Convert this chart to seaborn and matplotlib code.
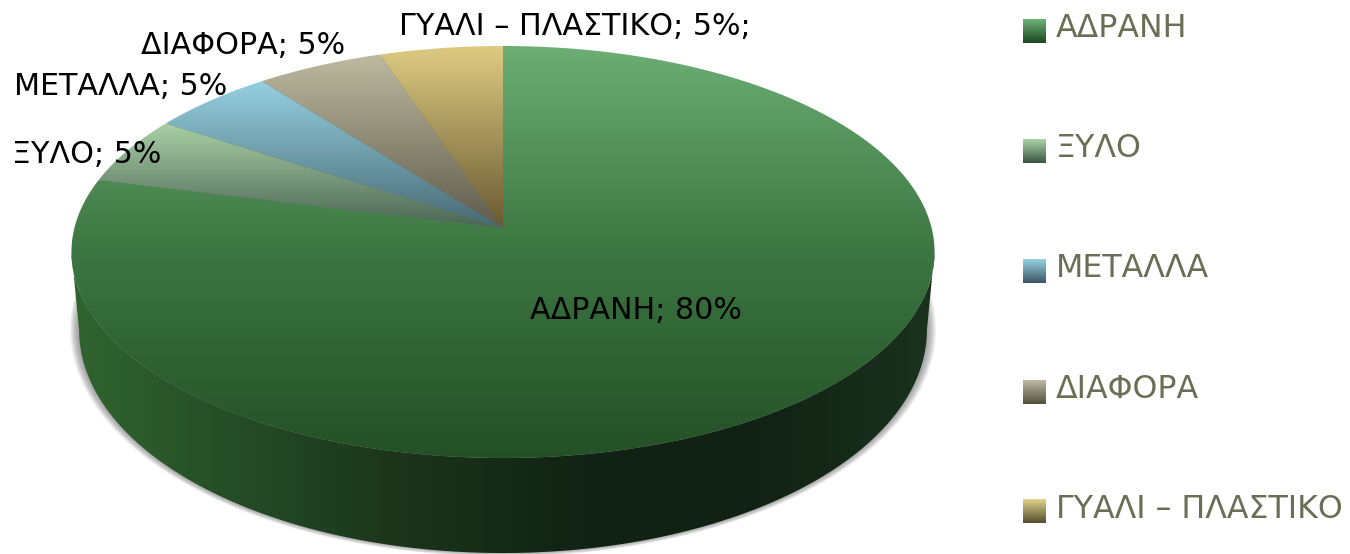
import numpy as np
import matplotlib
matplotlib.use("Agg")
import matplotlib.pyplot as plt
import seaborn as sns
from matplotlib.patches import Polygon

# data
categories = ["ΑΔΡΑΝΗ", "ΞΥΛΟ", "ΜΕΤΑΛΛΑ", "ΔΙΑΦΟΡΑ", "ΓΥΑΛΙ – ΠΛΑΣΤΙΚΟ"]
label_shares = [80, 5, 5, 5, 5]
# slices as measured, they are a bit off from the printed labels
slice_shares = [78.89, 5.33, 5.25, 5.36, 5.17]

# colours, top to bottom of each slice
slice_colors = [
    ["#6cae73", "#3c7642", "#245026"],
    ["#aad0a5", "#4b6455"],
    ["#96d0e1", "#486973"],
    ["#bebaa0", "#5f5a4b"],
    ["#decb82", "#695a32"],
]
swatch_colors = [
    ["#6eb478", "#1c4623"],
    ["#aad4aa", "#3c5540"],
    ["#96d2e1", "#3c5564"],
    ["#bebaa5", "#50503c"],
    ["#e1d28c", "#55502d"],
]
wall_colors = ["#30642f", "#244b26", "#1a321a", "#112315", "#122214", "#1a321e"]
legend_color = "#6b6e55"

sns.set_theme(style="white")
plt.rcParams["font.family"] = ["DejaVu Sans"]

fig = plt.figure(figsize=(13.5, 5.54), dpi=100)
ax = fig.add_axes([0, 0, 1, 1])

wedges, _ = ax.pie(slice_shares, startangle=90, counterclock=False)


def project(theta, cx, cy, rx, ry, k=0.1165):
    # tilted disc: unit circle to pixel coordinates
    x, y = np.cos(theta), np.sin(theta)
    return np.column_stack([cx + rx * x / (1 + k * y), cy - ry * y / (1 + k * y)])


top = dict(cx=503, cy=228, rx=428.6, ry=203.2)
rim = dict(cx=503, cy=304, rx=421, ry=220)

# soft shadow around the lower rim
full = np.linspace(0, 2 * np.pi, 400)
for s in range(9, 0, -1):
    pts = project(full, rim["cx"], rim["cy"] - 1, rim["rx"] + s, rim["ry"] + s * 0.45)
    ax.add_patch(Polygon(pts, closed=True, fc="#555555", ec="none", alpha=0.08, zorder=1))

# side wall, front half of the disc
front = np.radians(np.linspace(186.7, 353.3, 300))
wall_pts = np.vstack([project(front, **top), project(front[::-1], **rim)])
wall = Polygon(wall_pts, closed=True, fc="none", ec="none", zorder=2)
ax.add_patch(wall)
wall_cmap = sns.blend_palette(wall_colors, as_cmap=True)
im = ax.imshow(np.linspace(0, 1, 256)[None, :], cmap=wall_cmap, aspect="auto",
               extent=(wall_pts[:, 0].min(), wall_pts[:, 0].max(), 560, 240),
               interpolation="bilinear", zorder=2)
im.set_clip_path(wall)

# under the slices, so no light seams show between them
under = project(full, top["cx"], top["cy"], top["rx"] - 2, top["ry"] - 2)
ax.add_patch(Polygon(under, closed=True, fc="#5c7a58", ec="none", zorder=2.5))

# top face, one gradient per slice
for wedge, cols in zip(wedges, slice_colors):
    wedge.set_visible(False)
    theta = np.radians(np.linspace(wedge.theta1, wedge.theta2, 300))
    pts = np.vstack([[top["cx"], top["cy"]], project(theta, **top)])
    poly = Polygon(pts, closed=True, fc="none", ec="none", zorder=3)
    ax.add_patch(poly)
    cmap = sns.blend_palette(cols, as_cmap=True)
    im = ax.imshow(np.linspace(0, 1, 256)[:, None], cmap=cmap, aspect="auto", origin="upper",
                   extent=(pts[:, 0].min(), pts[:, 0].max(), pts[:, 1].max(), pts[:, 1].min()),
                   interpolation="bilinear", zorder=3)
    im.set_clip_path(poly)

# data labels
label_pos = [(530, 319), (12, 163), (14, 95), (141, 54), (399, 35)]
for i, (cat, val) in enumerate(zip(categories, label_shares)):
    txt = f"{cat}; {val}%"
    if i == 4:
        txt += ";"
    ax.text(label_pos[i][0], label_pos[i][1], txt, fontsize=21.7, color="black",
            va="baseline", ha="left", zorder=5)

# legend
swatch_y = [31, 151, 271, 392, 511]
legend_base = [37, 157, 277, 398, 518]
for cat, cols, y, b in zip(categories, swatch_colors, swatch_y, legend_base):
    cmap = sns.blend_palette(cols, as_cmap=True)
    ax.imshow(np.linspace(0, 1, 64)[:, None], cmap=cmap, aspect="auto", origin="upper",
              extent=(1023, 1046, y + 12, y - 12), interpolation="bilinear", zorder=3)
    ax.text(1056, b, cat, fontsize=22.8, color=legend_color, va="baseline", ha="left", zorder=5)

ax.set_xlim(0, 1350)
ax.set_ylim(554, 0)
ax.set_aspect("auto")
ax.axis("off")

fig.savefig("out.png", dpi=100)
